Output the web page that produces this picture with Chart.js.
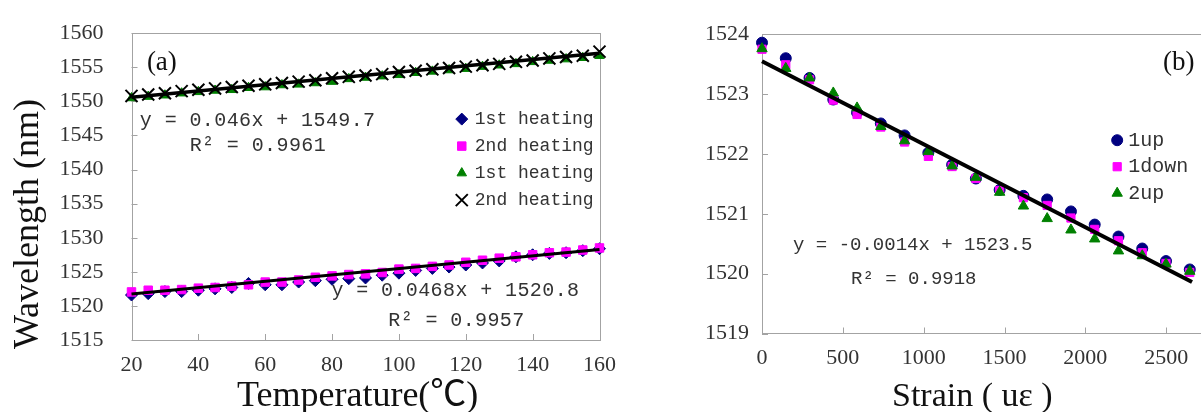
<!DOCTYPE html>
<html>
<head>
<meta charset="utf-8">
<script src="https://cdn.jsdelivr.net/npm/chart.js@4.4.0/dist/chart.umd.min.js"></script>
<style>
  html, body { margin: 0; padding: 0; background: #fff; overflow: hidden; width: 1201px; height: 412px; }
  #left { position: absolute; left: 0; top: 0; }
  #right { position: absolute; left: 640px; top: 0; }
</style>
</head>
<body>
<canvas id="left" width="620" height="412"></canvas>
<canvas id="right" width="640" height="412"></canvas>
<script>
// (a) temperature sweep
const temps = [20, 25, 30, 35, 40, 45, 50, 55, 60, 65, 70, 75, 80, 85, 90, 95, 100,
               105, 110, 115, 120, 125, 130, 135, 140, 145, 150, 155, 160];
const lowHeat1 = [1521.6, 1521.8, 1522.1, 1522.1, 1522.3, 1522.5, 1522.7, 1523.3, 1523.1, 1523.1,
                  1523.5, 1523.7, 1523.9, 1524.0, 1524.1, 1524.5, 1524.8, 1525.2, 1525.5, 1525.7,
                  1526.0, 1526.3, 1526.6, 1527.2, 1527.5, 1527.7, 1527.8, 1528.1, 1528.4];
const lowHeat2 = [1522.05, 1522.3, 1522.3, 1522.4, 1522.6, 1522.7, 1522.9, 1523.1, 1523.5, 1523.5,
                  1523.8, 1524.2, 1524.4, 1524.6, 1524.7, 1524.9, 1525.4, 1525.5, 1525.8, 1526.0,
                  1526.4, 1526.7, 1527.0, 1527.2, 1527.5, 1527.8, 1527.9, 1528.2, 1528.5];
const highHeat1 = [1550.5, 1550.7, 1550.9, 1551.2, 1551.4, 1551.6, 1551.7, 1552.0, 1552.1, 1552.4,
                   1552.5, 1552.7, 1552.9, 1553.3, 1553.5, 1553.7, 1553.9, 1554.2, 1554.4, 1554.6,
                   1554.8, 1555.1, 1555.3, 1555.5, 1555.8, 1556.0, 1556.2, 1556.4, 1556.7];
const highHeat2 = [1550.8, 1551.0, 1551.2, 1551.5, 1551.7, 1551.9, 1552.1, 1552.3, 1552.5, 1552.7,
                   1552.9, 1553.1, 1553.4, 1553.6, 1553.8, 1554.0, 1554.3, 1554.5, 1554.7, 1554.9,
                   1555.1, 1555.3, 1555.5, 1555.8, 1556.0, 1556.3, 1556.5, 1556.7, 1557.3];
const tempFitX = [20, 160];
const lowFitY = [1521.74, 1528.29];
const highFitY = [1550.62, 1557.06];

// (b) strain sweep
const strains = [0, 147, 294, 441, 588, 735, 882, 1029, 1176, 1323, 1470, 1617, 1764, 1911, 2058,
                 2205, 2352, 2499, 2646];
const up1 = [1523.86, 1523.6, 1523.27, 1522.91, 1522.69, 1522.51, 1522.31, 1522.02, 1521.82, 1521.59,
             1521.4, 1521.3, 1521.24, 1521.04, 1520.82, 1520.62, 1520.42, 1520.21, 1520.07];
const down1 = [1523.75, 1523.49, 1523.24, 1522.9, 1522.66, 1522.45, 1522.2, 1521.96, 1521.79, 1521.59,
               1521.39, 1521.27, 1521.14, 1520.93, 1520.74, 1520.55, 1520.35, 1520.17, 1520.02];
const up2 = [1523.76, 1523.43, 1523.27, 1523.02, 1522.77, 1522.46, 1522.22, 1522.04, 1521.8, 1521.61,
             1521.36, 1521.13, 1520.92, 1520.73, 1520.58, 1520.38, 1520.3, 1520.16, 1520.04];
const strainFitX = [0, 2660];
const strainFitY = [1523.55, 1519.86];

const NAVY = '#000080', PINK = '#ff00ff', GREEN = '#008000';
const TICK_FONT = { family: "'Liberation Serif', serif", size: 22 };
const MONO = "'Liberation Mono', monospace";
const SERIF = "'Liberation Serif', 'Noto Sans CJK SC', serif";

const pts = (xs, ys) => xs.map((x, i) => ({ x: x, y: ys[i] }));

function markers(label, xs, ys, color, style, radius, order) {
    return {
        label: label,
        data: pts(xs, ys),
        pointStyle: style,
        pointRadius: radius,
        backgroundColor: color,
        borderColor: color,
        borderWidth: style === 'crossRot' ? 2 : 1,
        clip: false,
        order: order
    };
}

function fitLine(xs, ys, width) {
    return {
        label: 'fit',
        data: pts(xs, ys),
        showLine: true,
        pointRadius: 0,
        borderColor: '#000',
        borderWidth: width,
        clip: false,
        order: 0
    };
}

// frame, inward ticks, notes, legend and axis titles
const decor = {
    id: 'decor',
    beforeDatasetsDraw(chart) {
        const { ctx, chartArea: a, scales } = chart;
        ctx.save();
        ctx.strokeStyle = '#a3a3a3';
        ctx.lineWidth = 1;
        ctx.strokeRect(Math.round(a.left) + 0.5, Math.round(a.top) + 0.5,
                       Math.round(a.right - a.left), Math.round(a.bottom - a.top));
        ctx.beginPath();
        scales.x.ticks.forEach(t => {
            const px = Math.round(scales.x.getPixelForValue(t.value)) + 0.5;
            ctx.moveTo(px, a.bottom);
            ctx.lineTo(px, a.bottom - 6);
        });
        scales.y.ticks.forEach(t => {
            const py = Math.round(scales.y.getPixelForValue(t.value)) + 0.5;
            ctx.moveTo(a.left, py);
            ctx.lineTo(a.left + 6, py);
        });
        ctx.stroke();
        ctx.restore();
    },
    afterDraw(chart, args, opts) {
        const { ctx, scales: { x, y } } = chart;
        ctx.save();
        ctx.textBaseline = 'middle';
        ctx.textAlign = 'left';

        // notes placed in data space
        (opts.notes || []).forEach(n => {
            ctx.font = n.font;
            ctx.fillStyle = n.color || '#333';
            ctx.letterSpacing = n.spacing || '0px';
            ctx.fillText(n.text, x.getPixelForValue(n.x), y.getPixelForValue(n.y));
        });
        ctx.letterSpacing = '0px';

        // legend built from the dataset list
        const lg = opts.legend;
        if (lg) {
            const mx = x.getPixelForValue(lg.x);
            const tx = x.getPixelForValue(lg.textX);
            let ly = y.getPixelForValue(lg.y);
            ctx.font = lg.font;
            chart.data.datasets.forEach(ds => {
                if (ds.label === 'fit') return;
                ctx.fillStyle = ds.backgroundColor;
                ctx.strokeStyle = ds.borderColor;
                ctx.lineWidth = ds.borderWidth;
                Chart.helpers.drawPoint(ctx, {
                    pointStyle: ds.pointStyle,
                    radius: ds.pointRadius,
                    rotation: 0,
                    borderWidth: ds.borderWidth
                }, mx, ly);
                ctx.fillStyle = '#333';
                ctx.fillText(ds.label, tx, ly);
                ly += lg.step;
            });
        }

        // axis titles
        (opts.titles || []).forEach(t => {
            ctx.save();
            ctx.font = t.font;
            ctx.fillStyle = '#111';
            ctx.textBaseline = 'alphabetic';
            ctx.textAlign = t.align || 'center';
            ctx.translate(t.px, t.py);
            if (t.rotate) ctx.rotate(-Math.PI / 2);
            ctx.fillText(t.text, 0, 0);
            ctx.restore();
        });
        ctx.restore();
    }
};

function axes(xMin, xMax, xStep, yMin, yMax, yStep, yWidth, xHeight, yPad) {
    return {
        x: {
            type: 'linear', min: xMin, max: xMax,
            grid: { display: false }, border: { display: false },
            ticks: { stepSize: xStep, color: '#333', font: TICK_FONT, padding: 4,
                     maxRotation: 0, autoSkip: false, callback: v => String(v) },
            afterFit: s => { s.height = xHeight; }
        },
        y: {
            type: 'linear', min: yMin, max: yMax,
            grid: { display: false }, border: { display: false },
            ticks: { stepSize: yStep, color: '#333', font: TICK_FONT, padding: yPad,
                     callback: v => String(v) },
            afterFit: s => { s.width = yWidth; }
        }
    };
}

new Chart(document.getElementById('left'), {
    type: 'scatter',
    data: {
        datasets: [
            markers('1st heating', temps, lowHeat1, NAVY, 'rectRot', 6, 5),
            markers('2nd heating', temps, lowHeat2, PINK, 'rect', 6, 4),
            markers('1st heating', temps, highHeat1, GREEN, 'triangle', 5.5, 3),
            markers('2nd heating', temps, highHeat2, '#000', 'crossRot', 8.5, 2),
            fitLine(tempFitX, lowFitY, 3),
            fitLine(tempFitX, highFitY, 3.5)
        ]
    },
    options: {
        responsive: false,
        animation: false,
        layout: { padding: { top: 24.5, right: 18, left: 0, bottom: 0 } },
        scales: axes(20, 160, 20, 1515, 1560, 5, 131.5, 72, 20),
        plugins: {
            legend: { display: false },
            tooltip: { enabled: false },
            decor: {
                notes: [
                    { text: '(a)', x: 24.6, y: 1555.6, font: `27px ${SERIF}`, color: '#111' },
                    { text: 'y = 0.046x + 1549.7', x: 22.5, y: 1547.1, font: `20px ${MONO}`, spacing: '0.4px' },
                    { text: 'R² = 0.9961', x: 37.4, y: 1543.5, font: `20px ${MONO}`, spacing: '0.4px' },
                    { text: 'y = 0.0468x + 1520.8', x: 79.8, y: 1522.3, font: `20px ${MONO}`, spacing: '0.4px' },
                    { text: 'R² = 0.9957', x: 96.8, y: 1517.9, font: `20px ${MONO}`, spacing: '0.4px' }
                ],
                legend: { x: 118.8, textX: 122.7, y: 1547.4, step: 27, font: `18px ${MONO}` },
                titles: [
                    { text: 'Wavelength (nm)', px: 38, py: 224, rotate: true, font: `36px ${SERIF}` },
                    { text: 'Temperature(℃)', px: 237, py: 406, align: 'left', font: `36px ${SERIF}` }
                ]
            }
        }
    },
    plugins: [decor]
});

new Chart(document.getElementById('right'), {
    type: 'scatter',
    data: {
        datasets: [
            markers('1up', strains, up1, NAVY, 'circle', 5.5, 3),
            markers('1down', strains, down1, PINK, 'rect', 5.8, 2),
            markers('2up', strains, up2, GREEN, 'triangle', 6, 1),
            fitLine(strainFitX, strainFitY, 4)
        ]
    },
    options: {
        responsive: false,
        animation: false,
        layout: { padding: { top: 34.3, right: 33, left: 0, bottom: 0 } },
        scales: axes(0, 3000, 500, 1519, 1524, 1, 122, 78.5, 5),
        plugins: {
            legend: { display: false },
            tooltip: { enabled: false },
            decor: {
                notes: [
                    { text: '(b)', x: 2481, y: 1523.52, font: `27px ${SERIF}`, color: '#111' },
                    { text: 'y = -0.0014x + 1523.5', x: 192, y: 1520.48, font: `19px ${MONO}`, spacing: '0px' },
                    { text: 'R² = 0.9918', x: 551, y: 1519.91, font: `19px ${MONO}`, spacing: '0px' }
                ],
                legend: { x: 2197, textX: 2265, y: 1522.23, step: 26.5, font: `20px ${MONO}` },
                titles: [
                    { text: 'Wavelength (nm)', px: 683, py: 182, rotate: true, font: `40px ${SERIF}` },
                    { text: 'Strain ( uε )', px: 252, py: 406, align: 'left', font: `34px ${SERIF}` }
                ]
            }
        }
    },
    plugins: [decor]
});
</script>
</body>
</html>
